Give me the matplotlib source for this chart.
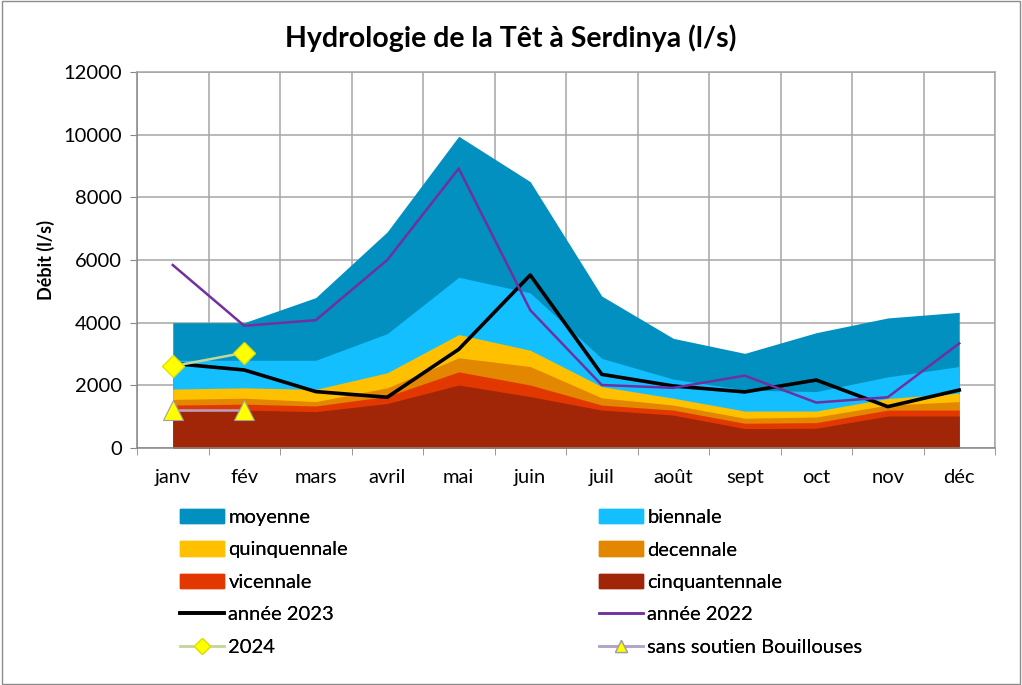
import numpy as np
import matplotlib.pyplot as plt
from matplotlib.patches import Rectangle, Patch
from matplotlib.lines import Line2D

plt.rcParams['font.family'] = ['Lato', 'DejaVu Sans']

# Months
mois = ['janv', 'fév', 'mars', 'avril', 'mai', 'juin', 'juil', 'août', 'sept', 'oct', 'nov', 'déc']

# Flow statistics (l/s)
moyenne = [4000, 4000, 4800, 6900, 9950, 8500, 4850, 3500, 3020, 3680, 4150, 4330]
biennale = [2800, 2800, 2800, 3650, 5450, 4950, 2860, 2200, 1850, 1800, 2270, 2600]
quinquennale = [1880, 1920, 1870, 2400, 3620, 3120, 1960, 1590, 1180, 1180, 1580, 1750]
decennale = [1550, 1590, 1480, 1920, 2880, 2600, 1600, 1370, 950, 990, 1370, 1480]
vicennale = [1370, 1400, 1340, 1650, 2430, 2010, 1370, 1210, 790, 810, 1210, 1210]
cinquantennale = [1160, 1210, 1160, 1420, 2010, 1640, 1210, 1050, 620, 630, 1020, 1020]

annee_2023 = [2700, 2490, 1800, 1620, 3150, 5520, 2350, 1980, 1790, 2170, 1320, 1850]
annee_2022 = [5840, 3900, 4080, 6000, 8920, 4400, 2010, 1920, 2310, 1450, 1620, 3340]
serie_2024 = [2610, 3040]
sans_soutien = [1200, 1200]

x = np.arange(len(mois)) + 0.5

fig = plt.figure(figsize=(10.22, 6.85), dpi=100)
ax = fig.add_axes([137 / 1022, 1 - 448 / 685, (995 - 137) / 1022, (448 - 72) / 685])

# overlapping (non stacked) areas, largest first
aires = [
    ('moyenne', moyenne, '#0190C0'),
    ('biennale', biennale, '#13BFFF'),
    ('quinquennale', quinquennale, '#FFC000'),
    ('decennale', decennale, '#E38700'),
    ('vicennale', vicennale, '#E23800'),
    ('cinquantennale', cinquantennale, '#A12608'),
]
for nom, vals, coul in aires:
    ax.fill_between(x, 0, vals, color=coul, linewidth=0, zorder=2)

ax.plot(x, annee_2023, color='black', linewidth=2.6, zorder=4)
ax.plot(x, annee_2022, color='#7030A0', linewidth=1.8, zorder=4)
ax.plot(x[:2], serie_2024, color='#C4D79B', linewidth=1.8, marker='D', markersize=11,
        markerfacecolor='#FFFF00', markeredgecolor='#E0E000', zorder=5)
ax.plot(x[:2], sans_soutien, color='#B3A2C7', linewidth=1.8, marker='^', markersize=15,
        markerfacecolor='#FFFF00', markeredgecolor='#A0A0A0', markeredgewidth=0.8, zorder=5)

# axes
ax.set_xlim(0, 12)
ax.set_ylim(0, 12000)
ax.set_yticks(np.arange(0, 12001, 2000))
ax.set_xticks(np.arange(13), minor=True)
ax.set_xticks(x, mois)
ax.tick_params(axis='x', which='major', length=0, labelsize=14.5, pad=15)
ax.tick_params(axis='x', which='minor', length=5, color='#888888')
ax.tick_params(axis='y', length=5, color='#888888', labelsize=14.5, pad=6)
ax.grid(which='minor', axis='x', color='#A6A6A6', linewidth=1.1, zorder=0)
ax.grid(which='major', axis='y', color='#A6A6A6', linewidth=1.1, zorder=0)
ax.set_axisbelow(True)
for s in ax.spines.values():
    s.set_color('#A6A6A6')
    s.set_linewidth(1.1)
ax.spines['left'].set_color('#888888')
ax.spines['bottom'].set_color('#888888')
ax.set_ylabel('Débit (l/s)', fontsize=13, fontweight='bold', labelpad=6)

fig.text(0.5, 1 - 38 / 685, 'Hydrologie de la Têt à Serdinya (l/s)', ha='center', va='center',
         fontsize=20.5, fontweight='bold')

# legends in two columns
h = {
    'moyenne': Patch(color='#0190C0'),
    'biennale': Patch(color='#13BFFF'),
    'quinquennale': Patch(color='#FFC000'),
    'decennale': Patch(color='#E38700'),
    'vicennale': Patch(color='#E23800'),
    'cinquantennale': Patch(color='#A12608'),
    'année 2023': Line2D([], [], color='black', linewidth=2.6),
    'année 2022': Line2D([], [], color='#7030A0', linewidth=1.8),
    '2024': Line2D([], [], color='#C4D79B', linewidth=1.8, marker='D', markersize=8,
                   markerfacecolor='#FFFF00', markeredgecolor='#E0E000'),
    'sans soutien Bouillouses': Line2D([], [], color='#B3A2C7', linewidth=1.8, marker='^', markersize=9,
                                       markerfacecolor='#FFFF00', markeredgecolor='#A0A0A0'),
}
col1 = ['moyenne', 'quinquennale', 'vicennale', 'année 2023', '2024']
col2 = ['biennale', 'decennale', 'cinquantennale', 'année 2022', 'sans soutien Bouillouses']
for noms, x0 in [(col1, 180), (col2, 599)]:
    leg = fig.legend([h[n] for n in noms], noms, loc='upper left',
                     bbox_to_anchor=(x0 / 1022, 1 - 509 / 685), frameon=False, fontsize=14.5,
                     handlelength=2.2, handleheight=0.7, handletextpad=0.2,
                     labelspacing=0.76, borderpad=0, borderaxespad=0)
    fig.add_artist(leg)

fig.add_artist(Rectangle((0.002, 0.002), 0.996, 0.996, transform=fig.transFigure,
                         fill=False, edgecolor='#8C8C8C', linewidth=1))

fig.savefig('out.png', dpi=100)
